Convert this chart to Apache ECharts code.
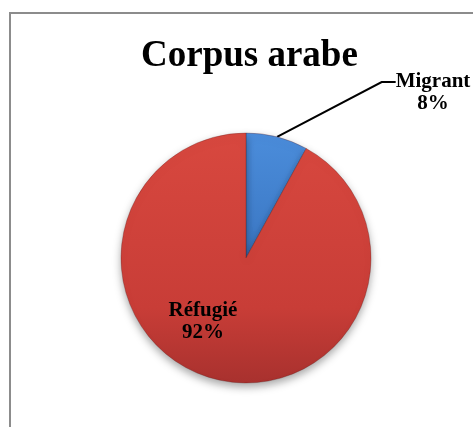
<!DOCTYPE html>
<html>
<head>
<meta charset="utf-8">
<script src="https://cdn.jsdelivr.net/npm/echarts@6/dist/echarts.min.js"></script>
<style>
  html, body { margin: 0; padding: 0; background: #fff; }
  #chart { width: 473px; height: 427px; }
</style>
</head>
<body>
<div id="chart"></div>
<script>
const categories = ['Migrant', 'Réfugié'];
const values = [8, 92];

const serif = '"Liberation Serif", "Times New Roman", serif';

const chart = echarts.init(document.getElementById('chart'));

chart.setOption({
  animation: false,
  graphic: [
    {
      type: 'rect',
      shape: { x: 10, y: 13, width: 520, height: 480 },
      style: { fill: 'none', stroke: '#8c8c8c', lineWidth: 2 },
      z: -1
    }
  ],
  title: {
    text: 'Corpus arabe',
    left: 136,
    top: 33,
    textStyle: {
      fontFamily: serif,
      fontWeight: 'bold',
      fontSize: 37,
      color: '#000'
    }
  },
  series: [
    {
      type: 'pie',
      center: [246, 258],
      radius: [0, 125],
      startAngle: 90,
      clockwise: true,
      data: categories.map((name, i) => ({
        name,
        value: values[i],
        itemStyle: {
          color: new echarts.graphic.LinearGradient(0, 0, 0, 1, i === 0
            ? [{ offset: 0, color: '#4b8ddb' }, { offset: 1, color: '#3a76c2' }]
            : [{ offset: 0, color: '#d8483f' }, { offset: 0.7, color: '#c83d37' }, { offset: 1, color: '#a8312e' }])
        },
        // blank first line keeps the leader line level with the name
        label: i === 0
          ? { position: 'outside', formatter: ' \n{b}\n{d}%' }
          : { position: 'inside' },
        labelLine: { show: i === 0 }
      })),
      itemStyle: {
        borderColor: 'rgba(90,20,20,0.5)',
        borderWidth: 0.6,
        shadowBlur: 8,
        shadowOffsetY: 4,
        shadowColor: 'rgba(0,0,0,0.35)'
      },
      label: {
        formatter: '{b}\n{d}%',
        fontFamily: serif,
        fontWeight: 'bold',
        fontSize: 21,
        lineHeight: 22,
        color: '#000',
        align: 'center'
      },
      labelLine: {
        length: 20,
        length2: 14,
        lineStyle: { color: '#000', width: 2 }
      },
      labelLayout: function (params) {
        if (params.dataIndex === 0) {
          return { x: 433, y: 82, align: 'center', verticalAlign: 'middle' };
        }
        return { x: 203, y: 322, align: 'center', verticalAlign: 'middle' };
      }
    }
  ]
});
</script>
</body>
</html>
